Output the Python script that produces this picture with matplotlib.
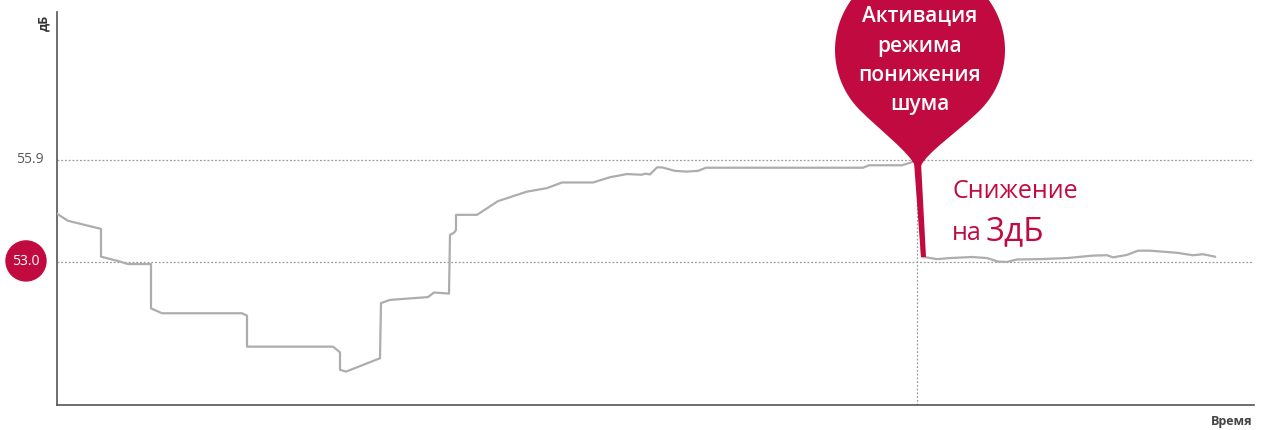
import numpy as np
import matplotlib.pyplot as plt
import matplotlib.patches as mpatches
import matplotlib.transforms as mtrans
from matplotlib.path import Path

plt.rcParams['font.family'] = ['Open Sans', 'DejaVu Sans']

# Уровень шума (дБ) по времени (условные единицы)
t = [0, 11, 44, 44, 63, 71, 94, 94, 105, 185, 190, 190, 276, 283, 283, 289,
     323, 324, 333, 371, 377, 392, 393, 397, 399, 399, 420, 441, 470, 490,
     505, 536, 553, 570, 585, 588, 593, 600, 605, 618, 630, 641, 649, 806,
     812, 845, 853, 860, 865, 869, 880, 893, 915, 930, 941, 950, 960, 983,
     1010, 1036, 1050, 1056, 1070, 1081, 1093, 1120, 1136, 1146, 1158]
db = [54.37, 54.17, 53.94, 53.15, 53.01, 52.94, 52.94, 51.68, 51.54, 51.54,
      51.47, 50.59, 50.59, 50.43, 49.93, 49.88, 50.26, 51.83, 51.92, 52.00,
      52.13, 52.10, 53.77, 53.83, 53.91, 54.34, 54.34, 54.73, 55.00, 55.10,
      55.26, 55.26, 55.41, 55.50, 55.48, 55.51, 55.49, 55.69, 55.69, 55.59,
      55.57, 55.59, 55.68, 55.68, 55.75, 55.75, 55.82, 55.90, 53.14, 53.13,
      53.08, 53.11, 53.14, 53.11, 53.01, 53.00, 53.07, 53.08, 53.11, 53.18,
      53.19, 53.13, 53.20, 53.32, 53.32, 53.26, 53.19, 53.22, 53.15]

t_on = 860          # момент активации
level_hi = 55.9
level_lo = 53.0

red = '#c10a40'
grey_line = '#adadb1'
dots = '#9c9c9c'

fig = plt.figure(figsize=(12.63, 4.30), dpi=100)
ax = fig.add_axes([57 / 1263, 25 / 430, 1197 / 1263, 393 / 430])
ax.set_xlim(0, 1197)
ax.set_ylim(48.93, 60.11)

# сетка
for lv in (level_hi, level_lo):
    ax.axhline(lv, color=dots, lw=0.9, ls=(0, (1.5, 1.5)), zorder=1)
ax.plot([t_on, t_on], [48.93, level_hi], color=dots, lw=0.9,
        ls=(0, (1.5, 1.5)), zorder=1)

# кривая
ax.plot(t, db, color=grey_line, lw=1.6, zorder=3)

# оси
for s in ('top', 'right'):
    ax.spines[s].set_visible(False)
for s in ('left', 'bottom'):
    ax.spines[s].set_color('#555555')
    ax.spines[s].set_linewidth(1.2)
ax.set_xticks([])
ax.set_yticks([])

# подписи уровней
ax.annotate(f'{level_hi:.1f}', xy=(0, level_hi), xycoords=('axes fraction', 'data'),
            xytext=(-13, 0), textcoords='offset pixels', ha='right', va='center',
            fontsize=10, color='#5a5a5a')
circ_tr = mtrans.Affine2D().scale(1 / 100) + fig.dpi_scale_trans + \
    mtrans.ScaledTranslation(0, level_lo, ax.get_yaxis_transform())
ax.add_patch(mpatches.Circle((-31, 1), 20, transform=circ_tr, color=red,
                             clip_on=False, zorder=4))
ax.text(-31, 0, f'{level_lo:.1f}', transform=circ_tr, ha='center', va='center',
        fontsize=10, color='white', zorder=5)

ax.annotate('дБ', xy=(0, 1), xycoords='axes fraction', xytext=(-13.5, -10.5),
            textcoords='offset pixels', rotation=90, ha='center', va='center',
            fontsize=9, fontweight='bold', color='#333333')
ax.annotate('Время', xy=(1, 0), xycoords='axes fraction', xytext=(-1, -16.5),
            textcoords='offset pixels', ha='right', va='center',
            fontsize=9, fontweight='bold', color='#444444')

# маркер активации (в пикселях от точки активации)
pin = mtrans.Affine2D().scale(1 / 100) + fig.dpi_scale_trans + \
    mtrans.ScaledTranslation(t_on, level_hi, ax.transData)

cx, cy, r = 3, 110, 85
a0, a1 = np.radians(225), np.radians(-45)
arc = np.linspace(a0, a1, 120)
pl = (cx + r * np.cos(a0), cy + r * np.sin(a0))
pr = (cx + r * np.cos(a1), cy + r * np.sin(a1))
k = 28
verts = [(-2, -6),
         (-7, 7), (pl[0] - k * np.sin(a0), pl[1] + k * np.cos(a0)), pl]
codes = [Path.MOVETO, Path.CURVE4, Path.CURVE4, Path.CURVE4]
for th in arc[1:]:
    verts.append((cx + r * np.cos(th), cy + r * np.sin(th)))
    codes.append(Path.LINETO)
verts += [(pr[0] + k * np.sin(a1), pr[1] - k * np.cos(a1)), (9, 7), (4, -6),
          (-2, -6)]
codes += [Path.CURVE4, Path.CURVE4, Path.CURVE4, Path.CLOSEPOLY]
ax.add_patch(mpatches.PathPatch(Path(verts, codes), transform=pin, color=red,
                                lw=0, clip_on=False, zorder=6))
ax.add_patch(mpatches.Polygon([(-3, -2), (4, -2), (9, -97), (4, -97)],
                              closed=True, transform=pin, color=red, lw=0,
                              clip_on=False, zorder=6))

for txt, yb in zip(['Активация', 'режима', 'понижения', 'шума'],
                   [138, 108, 79, 50]):
    ax.text(2.5, yb, txt, transform=pin, ha='center', va='baseline',
            fontsize=15, fontweight='semibold', color='white', zorder=7)

ax.text(35, -38, 'Снижение', transform=pin, ha='left', va='baseline',
        fontsize=18, color=red, zorder=7)
ax.text(35, -80, 'на', transform=pin, ha='left', va='baseline',
        fontsize=18, color=red, zorder=7)
ax.text(69, -80, '3дБ', transform=pin, ha='left', va='baseline',
        fontsize=24, color=red, zorder=7)

fig.savefig('out.png', dpi=100)
